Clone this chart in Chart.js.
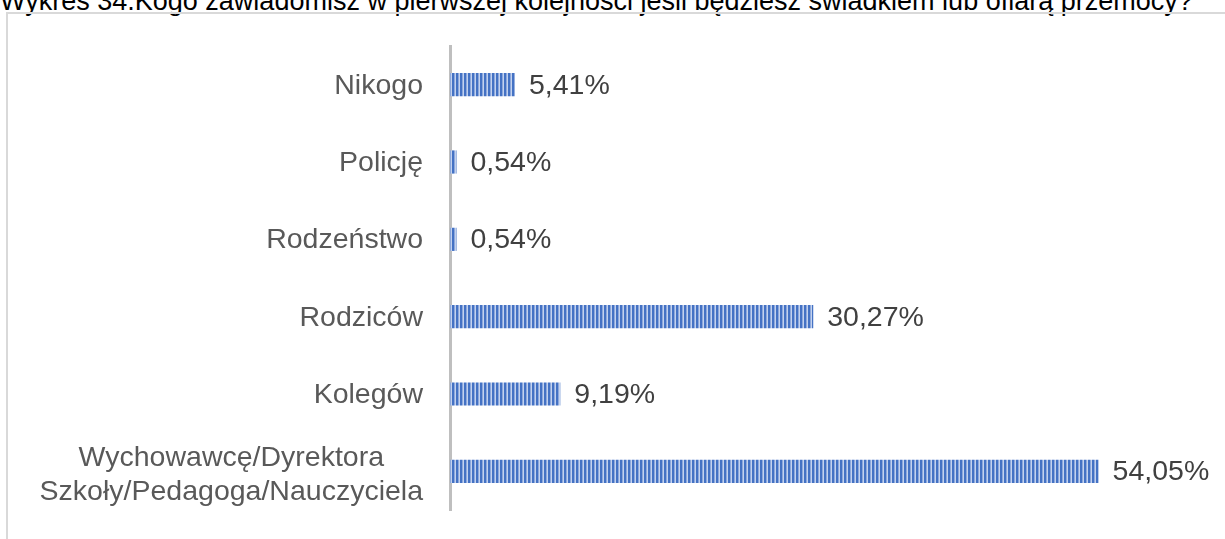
<!DOCTYPE html>
<html>
<head>
<meta charset="utf-8">
<script src="https://cdn.jsdelivr.net/npm/chart.js@4"></script>
<style>
  html, body { margin: 0; padding: 0; background: #fff; overflow: hidden; }
  body { width: 1225px; height: 539px; position: relative; font-family: "Liberation Sans", Arial, sans-serif; }
  #tytul {
    position: absolute; left: 0; top: -12px; white-space: nowrap;
    font-size: 27px; line-height: 27px; color: #000;
  }
  #ramka {
    position: absolute; left: 6px; top: 12px; width: 1240px; height: 560px;
    border: 2px solid #d9d9d9; box-sizing: border-box;
  }
  #wrap { position: absolute; left: 0; top: 0; width: 1225px; height: 539px; }
</style>
</head>
<body>
<div id="tytul">Wykres 34.Kogo zawiadomisz w pierwszej kolejności jeśli będziesz świadkiem lub ofiarą przemocy?</div>
<div id="ramka"></div>
<div id="wrap"><canvas id="wykres"></canvas></div>
<script>
const kategorie = [
    'Nikogo',
    'Policję',
    'Rodzeństwo',
    'Rodziców',
    'Kolegów',
    ['Wychowawcę/Dyrektora', 'Szkoły/Pedagoga/Nauczyciela']
];
const procenty = [5.41, 0.54, 0.54, 30.27, 9.19, 54.05];
const etykiety = ['5,41%', '0,54%', '0,54%', '30,27%', '9,19%', '54,05%'];

const czcionka = '28.5px "Liberation Sans", Arial, sans-serif';

// pionowe paski jak w wypełnieniu wzorem z Excela
function paski() {
    const c = document.createElement('canvas');
    c.width = 4; c.height = 4;
    const g = c.getContext('2d');
    const kolory = ['#4472c4', '#4472c4', '#8ea9dd', '#c3d2ee'];
    kolory.forEach((k, i) => { g.fillStyle = k; g.fillRect(i, 0, 1, 4); });
    return g.createPattern(c, 'repeat');
}

// opisy kategorii: jednoliniowe do prawej, wieloliniowe wyśrodkowane względem siebie
const opisy = {
    id: 'opisy',
    afterDraw(chart) {
        const ctx = chart.ctx;
        const sy = chart.scales.y;
        const prawa = sy.right - 27;
        ctx.save();
        ctx.font = czcionka;
        ctx.fillStyle = '#595959';
        ctx.textBaseline = 'middle';
        kategorie.forEach((k, i) => {
            const y = sy.getPixelForTick(i);
            if (Array.isArray(k)) {
                const szer = Math.max(...k.map(l => ctx.measureText(l).width));
                const srodek = prawa - szer / 2;
                const odstep = 34;
                ctx.textAlign = 'center';
                k.forEach((l, j) => {
                    ctx.fillText(l, srodek, y + 4 + (j - (k.length - 1) / 2) * odstep);
                });
            } else {
                ctx.textAlign = 'right';
                ctx.fillText(k, prawa, y + 1);
            }
        });
        ctx.restore();
    }
};

const wartosci = {
    id: 'wartosci',
    afterDatasetsDraw(chart) {
        const ctx = chart.ctx;
        ctx.save();
        ctx.font = czcionka;
        ctx.fillStyle = '#404040';
        ctx.textAlign = 'left';
        ctx.textBaseline = 'middle';
        chart.getDatasetMeta(0).data.forEach((bar, i) => {
            ctx.fillText(etykiety[i], bar.x + 14, bar.y + 1);
        });
        ctx.restore();
    }
};

const ctx = document.getElementById('wykres').getContext('2d');
const wykres = new Chart(ctx, {
    type: 'bar',
    data: {
        labels: kategorie,
        datasets: [{
            data: procenty,
            backgroundColor: paski(),
            borderWidth: 0,
            barPercentage: 0.3,
            categoryPercentage: 1
        }]
    },
    options: {
        indexAxis: 'y',
        responsive: true,
        maintainAspectRatio: false,
        animation: false,
        layout: { padding: { top: 46, bottom: 29, right: 55, left: 0 } },
        plugins: {
            legend: { display: false },
            tooltip: { enabled: false }
        },
        scales: {
            x: {
                display: false,
                min: 0,
                max: 60
            },
            y: {
                afterFit(scale) { scale.width = 450; },
                grid: { display: false },
                border: { display: true, color: '#bfbfbf', width: 3 },
                ticks: { display: false }
            }
        }
    },
    plugins: [wartosci, opisy]
});
</script>
</body>
</html>
